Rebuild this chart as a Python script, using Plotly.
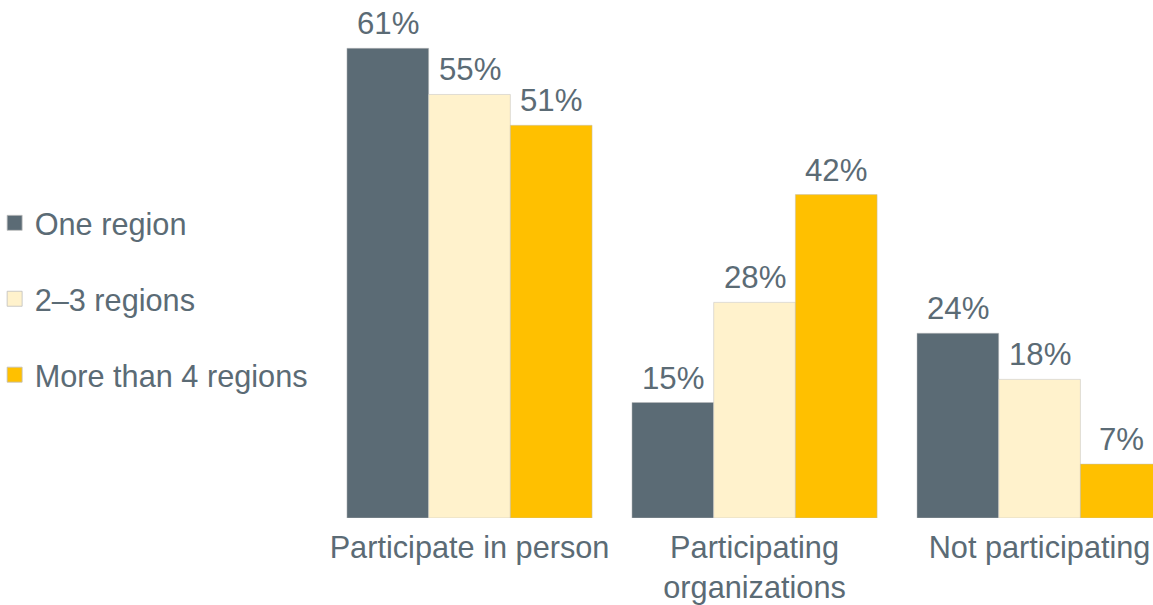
import plotly.graph_objects as go

# Share of respondents by how many regions they operate in
categories = ["Participate in person", "Participating<br>organizations", "Not participating"]
series_names = ["One region", "2–3 regions", "More than 4 regions"]
one_region = [61, 15, 24]
two_three_regions = [55, 28, 18]
more_than_four = [51, 42, 7]

colors = ["#5b6b75", "#fff2cc", "#ffc000"]
text_color = "#5b6b75"
font_family = "Liberation Sans, Arial, sans-serif"
FONT_SIZE = 30.7

BARGAP = 0.14
N_SERIES = 3
CAT_PX = 285  # pixel width of one category slot
bar_px = CAT_PX * (1 - BARGAP) / N_SERIES

all_series = [one_region, two_three_regions, more_than_four]

fig = go.Figure()
for i, (name, vals) in enumerate(zip(series_names, all_series)):
    fig.add_trace(go.Bar(
        x=categories,
        y=vals,
        name=name,
        showlegend=False,
        marker=dict(color=colors[i], line=dict(color="rgba(190,190,190,0.6)", width=0.8)),
    ))
    # value labels above each bar
    for cat, v in zip(categories, vals):
        fig.add_annotation(
            x=cat, y=v, xref="x", yref="y",
            text=f"{v}%",
            showarrow=False,
            xanchor="center", yanchor="bottom",
            xshift=(i - 1) * bar_px,
            yshift=5,
            font=dict(size=FONT_SIZE + 0.5, color=text_color, family=font_family),
        )

# legend entries with larger square swatches
for name, col in zip(series_names, colors):
    fig.add_trace(go.Scatter(
        x=[None], y=[None],
        mode="markers",
        name=name,
        legendgroup=name,
        marker=dict(symbol="square", size=15, color=col,
                    line=dict(color="rgba(190,190,190,0.8)", width=1)),
    ))

fig.update_layout(
    width=1153,
    height=605,
    margin=dict(l=340, r=0, t=0, b=87, autoexpand=False),
    paper_bgcolor="white",
    plot_bgcolor="white",
    barmode="group",
    bargap=BARGAP,
    bargroupgap=0,
    font=dict(family=font_family, size=FONT_SIZE, color=text_color),
    showlegend=True,
    legend=dict(
        x=-0.4248, xanchor="left",
        y=0.423, yanchor="middle",
        traceorder="grouped",
        tracegroupgap=33,
        font=dict(size=FONT_SIZE, color=text_color, family=font_family),
        bgcolor="rgba(0,0,0,0)",
    ),
    xaxis=dict(
        range=[-0.4544, 2.398],
        showgrid=False,
        showline=False,
        zeroline=False,
        ticks="",
        ticklabelstandoff=8,
        tickfont=dict(size=FONT_SIZE, color=text_color, family=font_family),
    ),
    yaxis=dict(
        range=[0, 67.27],
        showgrid=False,
        showline=False,
        zeroline=False,
        showticklabels=False,
        ticks="",
    ),
)

fig.write_html("out.html")
